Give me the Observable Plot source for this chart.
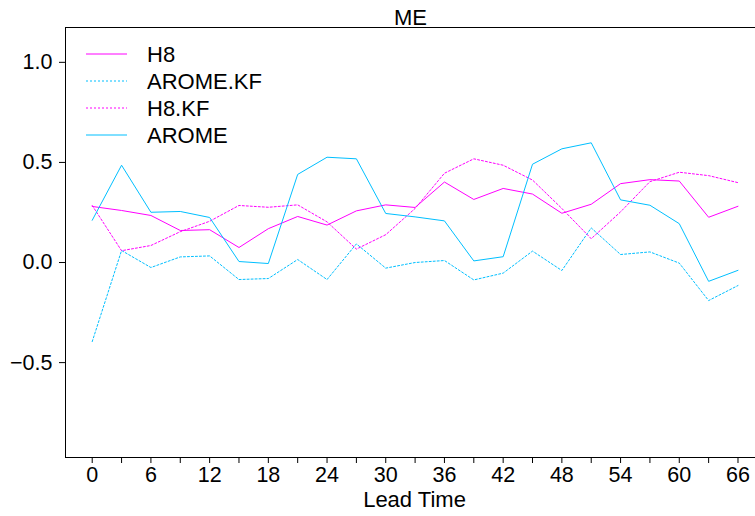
<!DOCTYPE html>
<html>
<head>
<meta charset="utf-8">
<script src="https://cdn.jsdelivr.net/npm/d3@7"></script>
<script src="https://cdn.jsdelivr.net/npm/@observablehq/plot@0.6"></script>
<style>
  html, body { margin: 0; padding: 0; background: #fff; }
  #wrap { position: relative; width: 755px; height: 516px; overflow: hidden; font-family: "Liberation Sans", Arial, sans-serif; }
  #legend { position: absolute; left: 0; top: 0; }
</style>
</head>
<body>
<div id="wrap"></div>
<script>
// ---- data ----
const leadTimes = [0,3,6,9,12,15,18,21,24,27,30,33,36,39,42,45,48,51,54,57,60,63,66];
const xTickLabels = [0,6,12,18,24,30,36,42,48,54,60,66];
const yTicks = [-0.5, 0, 0.5, 1.0];
const seriesNames = ["H8", "AROME.KF", "H8.KF", "AROME"];
const h8      = [0.28,0.26,0.235,0.16,0.164,0.075,0.169,0.23,0.187,0.258,0.288,0.275,0.402,0.315,0.37,0.342,0.246,0.291,0.394,0.414,0.407,0.226,0.281];
const aromeKF = [-0.395,0.06,-0.025,0.028,0.033,-0.085,-0.08,0.015,-0.085,0.093,-0.028,0.0,0.01,-0.087,-0.053,0.057,-0.04,0.173,0.04,0.053,-0.003,-0.19,-0.115];
const h8KF    = [0.285,0.059,0.085,0.154,0.206,0.285,0.276,0.288,0.203,0.067,0.139,0.27,0.446,0.518,0.486,0.412,0.27,0.119,0.253,0.404,0.451,0.434,0.399];
const arome   = [0.211,0.486,0.251,0.255,0.225,0.005,-0.005,0.44,0.526,0.518,0.245,0.228,0.208,0.008,0.029,0.491,0.568,0.598,0.313,0.286,0.194,-0.094,-0.039];

const MAG = "#ff00ff", CYAN = "#00bfff";
const styles = {
  "H8":       {stroke: MAG,  dash: null},
  "AROME.KF": {stroke: CYAN, dash: "2,2"},
  "H8.KF":    {stroke: MAG,  dash: "2,2"},
  "AROME":    {stroke: CYAN, dash: null}
};
const valuesBy = {"H8": h8, "AROME.KF": aromeKF, "H8.KF": h8KF, "AROME": arome};
const rows = name => leadTimes.map((t, i) => ({lead: t, value: valuesBy[name][i]}));

const xDomain = [-2.73, 67.79];
const yDomain = [-0.974, 1.174];
const FONT = 21.5;
const BIG = 22;

const lineMarks = seriesNames.map(name => Plot.line(rows(name), {
  x: "lead", y: "value",
  stroke: styles[name].stroke,
  strokeWidth: 1,
  strokeDasharray: styles[name].dash || undefined
}));

const chart = Plot.plot({
  width: 755,
  height: 516,
  marginLeft: 65,
  marginRight: 0,
  marginTop: 27,
  marginBottom: 59,
  style: {fontFamily: '"Liberation Sans", Arial, sans-serif', fontSize: FONT + "px", color: "black", background: "white", overflow: "visible"},
  x: {domain: xDomain},
  y: {domain: yDomain},
  marks: [
    ...lineMarks,
    Plot.ruleX([xDomain[0]], {stroke: "black", strokeWidth: 1}),
    Plot.ruleY([yDomain[0]], {stroke: "black", strokeWidth: 1}),
    Plot.ruleY([yDomain[1]], {stroke: "black", strokeWidth: 1}),
    Plot.axisX({ticks: leadTimes, tickSize: 6, tickPadding: 3, label: null,
      tickFormat: d => xTickLabels.includes(d) ? String(d) : "", fontSize: FONT}),
    Plot.axisY({ticks: yTicks, tickSize: 6, tickPadding: 7, label: null,
      tickFormat: d3.format(".1f"), fontSize: FONT}),
    Plot.text(["Lead Time"], {frameAnchor: "bottom", dy: 49, dx: 4, fontSize: BIG, fill: "black"}),
    Plot.text(["ME"], {frameAnchor: "top", dy: -18, dx: 0, fontSize: BIG, fill: "black"})
  ]
});

const wrap = document.getElementById("wrap");
wrap.appendChild(chart);

// legend overlay (inside plot area, top-left)
const ns = "http://www.w3.org/2000/svg";
const leg = document.createElementNS(ns, "svg");
leg.setAttribute("id", "legend");
leg.setAttribute("width", 300);
leg.setAttribute("height", 160);
seriesNames.forEach((name, i) => {
  const y = 54 + i * 27;
  const ln = document.createElementNS(ns, "line");
  ln.setAttribute("x1", 86); ln.setAttribute("x2", 127);
  ln.setAttribute("y1", y); ln.setAttribute("y2", y);
  ln.setAttribute("stroke", styles[name].stroke);
  ln.setAttribute("stroke-width", 1);
  if (styles[name].dash) ln.setAttribute("stroke-dasharray", styles[name].dash);
  leg.appendChild(ln);
  const tx = document.createElementNS(ns, "text");
  tx.setAttribute("x", 147); tx.setAttribute("y", y);
  tx.setAttribute("dy", "0.36em");
  tx.setAttribute("font-size", BIG);
  tx.setAttribute("font-family", '"Liberation Sans", Arial, sans-serif');
  tx.setAttribute("fill", "black");
  tx.textContent = name;
  leg.appendChild(tx);
});
wrap.appendChild(leg);
</script>
</body>
</html>
